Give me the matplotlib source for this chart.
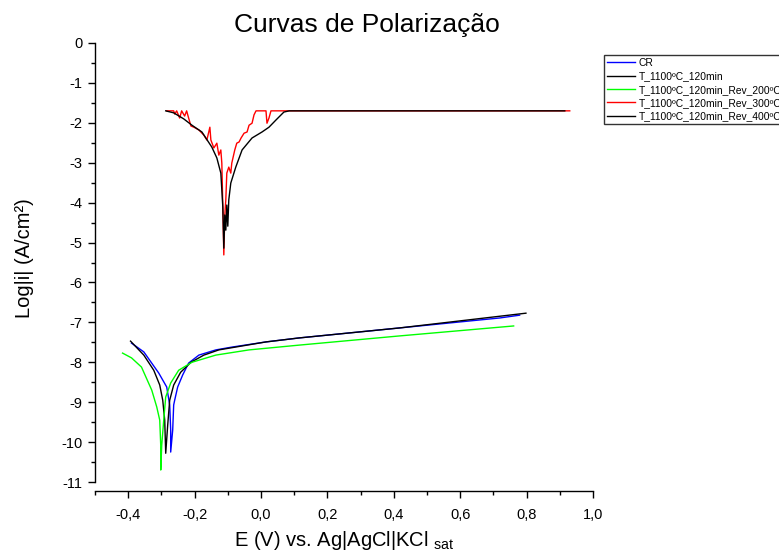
import matplotlib
matplotlib.use("Agg")
import matplotlib.pyplot as plt
from matplotlib.ticker import MultipleLocator, FuncFormatter

plt.rcParams['font.family'] = ['Liberation Sans', 'DejaVu Sans']
plt.rcParams['axes.unicode_minus'] = False
plt.rcParams['mathtext.fontset'] = 'custom'
plt.rcParams['mathtext.rm'] = 'Liberation Sans'
plt.rcParams['mathtext.it'] = 'Liberation Sans:italic'

# ---- polarization curves: potential E (V) and log|i| ----
cr_E = [-0.390, -0.353, -0.308, -0.284, -0.275, -0.272, -0.272, -0.266, -0.263,
        -0.260, -0.251, -0.236, -0.218, -0.187, -0.136, -0.088, 0.015, 0.115,
        0.417, 0.719, 0.779]
cr_logi = [-7.52, -7.74, -8.27, -8.62, -9.07, -9.70, -10.25, -9.70, -9.07,
           -8.95, -8.62, -8.32, -8.02, -7.82, -7.69, -7.62, -7.49, -7.39,
           -7.14, -6.89, -6.82]

t120_E = [-0.393, -0.353, -0.323, -0.305, -0.296, -0.290, -0.287, -0.281, -0.275,
          -0.263, -0.242, -0.211, -0.172, -0.127, 0.015, 0.115, 0.417, 0.798]
t120_logi = [-7.47, -7.82, -8.20, -8.57, -8.95, -9.45, -10.28, -9.57, -8.95,
             -8.57, -8.25, -8.00, -7.82, -7.69, -7.49, -7.39, -7.14, -6.77]

rev200_E = [-0.417, -0.390, -0.360, -0.329, -0.314, -0.305, -0.302, -0.302,
            -0.299, -0.293, -0.287, -0.272, -0.248, -0.208, -0.136, -0.036,
            0.115, 0.417, 0.761]
rev200_logi = [-7.77, -7.89, -8.12, -8.70, -9.12, -9.45, -10.08, -10.70,
               -10.08, -9.45, -8.87, -8.52, -8.20, -8.00, -7.82, -7.69,
               -7.57, -7.34, -7.09]

rev300_E = [-0.284, -0.263, -0.260, -0.254, -0.245, -0.239, -0.230, -0.224,
            -0.218, -0.211, -0.202, -0.187, -0.172, -0.163, -0.154, -0.151,
            -0.142, -0.133, -0.127, -0.121, -0.118, -0.115, -0.112, -0.109,
            -0.106, -0.103, -0.097, -0.091, -0.088, -0.079, -0.073, -0.066,
            -0.060, -0.051, -0.042, -0.036, -0.027, -0.021, -0.015, 0.015,
            0.018, 0.024, 0.030, 0.930]
rev300_logi = [-1.70, -1.70, -1.78, -1.70, -1.88, -1.70, -1.83, -1.70,
               -1.88, -2.08, -2.11, -2.18, -2.31, -2.43, -2.11, -2.43,
               -2.63, -2.51, -2.81, -2.68, -3.01, -4.11, -5.31, -4.31,
               -3.93, -3.26, -3.11, -3.26, -3.01, -2.68, -2.51, -2.48,
               -2.38, -2.26, -2.23, -2.06, -2.01, -1.80, -1.70, -1.70,
               -2.01, -1.88, -1.70, -1.70]

rev400_E = [-0.287, -0.263, -0.233, -0.208, -0.178, -0.148, -0.133, -0.121,
            -0.118, -0.115, -0.112, -0.109, -0.106, -0.103, -0.100, -0.097,
            -0.091, -0.076, -0.057, -0.027, 0.003, 0.024, 0.045, 0.069,
            0.085, 0.915]
rev400_logi = [-1.70, -1.75, -1.90, -2.06, -2.23, -2.61, -2.88, -3.26,
               -3.68, -4.11, -5.14, -4.31, -4.69, -4.06, -4.59, -3.93,
               -3.51, -3.11, -2.68, -2.38, -2.23, -2.11, -1.93, -1.73,
               -1.70, -1.70]

labels = ["CR", "T_1100ºC_120min", "T_1100ºC_120min_Rev_200ºC",
          "T_1100ºC_120min_Rev_300ºC", "T_1100ºC_120min_Rev_400ºC"]
colors = ["#0000ff", "#000000", "#00ff00", "#ff0000", "#000000"]
series = [(cr_E, cr_logi), (t120_E, t120_logi), (rev200_E, rev200_logi),
          (rev300_E, rev300_logi), (rev400_E, rev400_logi)]

W, H = 779, 556
fig = plt.figure(figsize=(W / 100, H / 100), dpi=100)
ax = fig.add_axes([95 / W, 1 - 482 / H, (593 - 95) / W, (482 - 43) / H])

handles = []
for (e, li), lab, c in zip(series, labels, colors):
    h, = ax.plot(e, li, color=c, lw=1.0, label=lab)
    handles.append(h)

ax.set_xlim(-0.5, 1.0)
ax.set_ylim(-11, 0)

ax.spines['top'].set_visible(False)
ax.spines['right'].set_visible(False)
ax.spines['bottom'].set_position(('outward', 6.5))
for s in ('left', 'bottom'):
    ax.spines[s].set_linewidth(1.0)

ax.xaxis.set_major_locator(MultipleLocator(0.2))
ax.xaxis.set_minor_locator(MultipleLocator(0.1))
ax.yaxis.set_major_locator(MultipleLocator(1))
ax.yaxis.set_minor_locator(MultipleLocator(0.5))
ax.xaxis.set_major_formatter(FuncFormatter(lambda v, p: f"{v:.1f}".replace('.', ',')))
ax.yaxis.set_major_formatter(FuncFormatter(lambda v, p: f"{int(round(v))}"))
ax.tick_params(which='major', length=5, width=1.0, labelsize=10.5, pad=4)
ax.tick_params(axis='x', which='major', pad=7)
ax.tick_params(which='minor', length=3, width=1.0)

fig.text(344 / W, 1 - 541 / H, r"E (V) vs. Ag|AgCl|KCl $_{\mathrm{sat}}$",
         ha='center', va='center', fontsize=14.5)
fig.text(25 / W, 1 - 258 / H, "Log|i| (A/cm²)", rotation=90,
         ha='center', va='center', fontsize=14.5)
fig.text(367 / W, 1 - 25 / H, "Curvas de Polarização",
         ha='center', va='center', fontsize=19)

leg = fig.legend(handles=handles, loc='upper left',
                 bbox_to_anchor=(604 / W, 1 - 55 / H), fontsize=7.4,
                 frameon=True, fancybox=False, edgecolor='black',
                 borderpad=0.3, labelspacing=0.32, handlelength=2.7,
                 handletextpad=0.4, borderaxespad=0)
leg.get_frame().set_linewidth(1.0)

fig.savefig("out.png", dpi=100)
